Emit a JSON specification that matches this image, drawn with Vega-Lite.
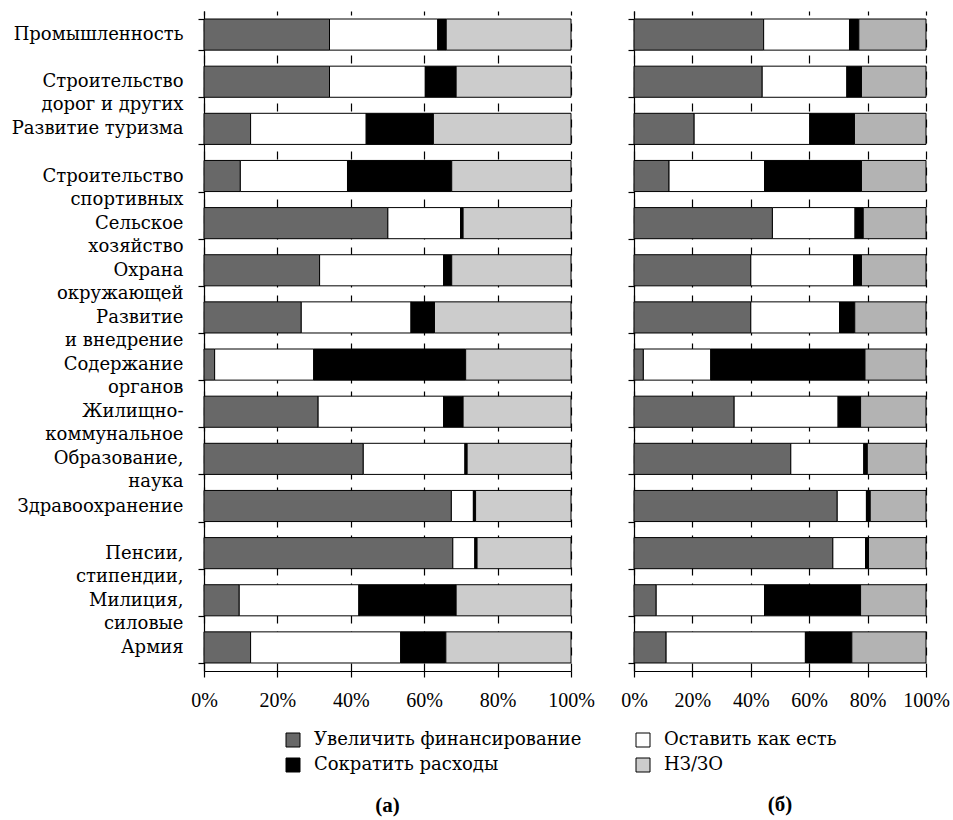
{
  "$schema": "https://vega.github.io/schema/vega-lite/v6.json",
  "autosize": {"type": "pad"},
  "padding": {"left": 11, "top": 2, "right": 5, "bottom": 5},
  "background": "white",
  "spacing": 63,
  "bounds": "flush",
  "config": {
    "view": {"stroke": null},
    "font": "DejaVu Serif",
    "bar": {"stroke": "black", "strokeWidth": 1},
    "axis": {
      "domainColor": "black",
      "domainWidth": 1.2,
      "tickColor": "black",
      "tickWidth": 1.2,
      "tickSize": 6,
      "labelColor": "black",
      "titleColor": "black"
    },
    "legend": {
      "orient": "none",
      "direction": "horizontal",
      "legendX": 80,
      "legendY": 720,
      "columns": 2,
      "padding": 0,
      "symbolType": "square",
      "symbolSize": 196,
      "symbolStrokeColor": "black",
      "symbolStrokeWidth": 1,
      "symbolOpacity": 1,
      "labelFont": "DejaVu Serif",
      "labelFontSize": 18,
      "labelColor": "black",
      "labelOffset": 12,
      "rowPadding": 7,
      "columnPadding": 52,
      "labelLimit": 400
    },
    "title": {"orient": "bottom", "anchor": "middle", "font": "Liberation Serif", "fontSize": 21, "fontWeight": "bold", "color": "black"}
  },
  "datasets": {
    "order": [
      {"s": "Увеличить финансирование", "k": 1},
      {"s": "Оставить как есть", "k": 2},
      {"s": "Сократить расходы", "k": 3},
      {"s": "НЗ/ЗО", "k": 4}
    ],
    "a": [
      {"c": "Промышленность", "Увеличить финансирование": 34.2, "Оставить как есть": 29.5, "Сократить расходы": 2.3, "НЗ/ЗО": 34.0},
      {"c": "Строительство|дорог и других", "Увеличить финансирование": 34.2, "Оставить как есть": 26.1, "Сократить расходы": 8.4, "НЗ/ЗО": 31.3},
      {"c": "Развитие туризма", "Увеличить финансирование": 12.7, "Оставить как есть": 31.5, "Сократить расходы": 18.3, "НЗ/ЗО": 37.5},
      {"c": "Строительство|спортивных", "Увеличить финансирование": 9.9, "Оставить как есть": 29.2, "Сократить расходы": 28.4, "НЗ/ЗО": 32.5},
      {"c": "Сельское|хозяйство", "Увеличить финансирование": 50.1, "Оставить как есть": 19.8, "Сократить расходы": 0.7, "НЗ/ЗО": 29.4},
      {"c": "Охрана|окружающей", "Увеличить финансирование": 31.5, "Оставить как есть": 33.8, "Сократить расходы": 2.2, "НЗ/ЗО": 32.5},
      {"c": "Развитие|и внедрение", "Увеличить финансирование": 26.5, "Оставить как есть": 29.9, "Сократить расходы": 6.4, "НЗ/ЗО": 37.2},
      {"c": "Содержание|органов", "Увеличить финансирование": 2.9, "Оставить как есть": 27.0, "Сократить расходы": 41.4, "НЗ/ЗО": 28.7},
      {"c": "Жилищно-|коммунальное", "Увеличить финансирование": 31.1, "Оставить как есть": 34.2, "Сократить расходы": 5.3, "НЗ/ЗО": 29.4},
      {"c": "Образование,|наука", "Увеличить финансирование": 43.4, "Оставить как есть": 27.7, "Сократить расходы": 0.6, "НЗ/ЗО": 28.3},
      {"c": "Здравоохранение", "Увеличить финансирование": 67.4, "Оставить как есть": 6.0, "Сократить расходы": 0.6, "НЗ/ЗО": 26.0},
      {"c": "Пенсии,|стипендии,", "Увеличить финансирование": 67.8, "Оставить как есть": 6.0, "Сократить расходы": 0.6, "НЗ/ЗО": 25.6},
      {"c": "Милиция,|силовые", "Увеличить финансирование": 9.6, "Оставить как есть": 32.6, "Сократить расходы": 26.5, "НЗ/ЗО": 31.3},
      {"c": "Армия", "Увеличить финансирование": 12.7, "Оставить как есть": 40.9, "Сократить расходы": 12.3, "НЗ/ЗО": 34.1}
    ],
    "b": [
      {"c": "Промышленность", "Увеличить финансирование": 44.4, "Оставить как есть": 29.4, "Сократить расходы": 3.2, "НЗ/ЗО": 23.0},
      {"c": "Строительство|дорог и других", "Увеличить финансирование": 43.9, "Оставить как есть": 29.0, "Сократить расходы": 5.0, "НЗ/ЗО": 22.1},
      {"c": "Развитие туризма", "Увеличить финансирование": 20.6, "Оставить как есть": 39.6, "Сократить расходы": 15.3, "НЗ/ЗО": 24.5},
      {"c": "Строительство|спортивных", "Увеличить финансирование": 12.0, "Оставить как есть": 32.7, "Сократить расходы": 33.2, "НЗ/ЗО": 22.1},
      {"c": "Сельское|хозяйство", "Увеличить финансирование": 47.4, "Оставить как есть": 28.3, "Сократить расходы": 2.8, "НЗ/ЗО": 21.5},
      {"c": "Охрана|окружающей", "Увеличить финансирование": 40.0, "Оставить как есть": 35.2, "Сократить расходы": 2.7, "НЗ/ЗО": 22.1},
      {"c": "Развитие|и внедрение", "Увеличить финансирование": 40.0, "Оставить как есть": 30.4, "Сократить расходы": 5.2, "НЗ/ЗО": 24.4},
      {"c": "Содержание|органов", "Увеличить финансирование": 3.2, "Оставить как есть": 23.1, "Сократить расходы": 52.8, "НЗ/ЗО": 20.9},
      {"c": "Жилищно-|коммунальное", "Увеличить финансирование": 34.3, "Оставить как есть": 35.6, "Сократить расходы": 7.7, "НЗ/ЗО": 22.4},
      {"c": "Образование,|наука", "Увеличить финансирование": 53.7, "Оставить как есть": 25.0, "Сократить расходы": 1.2, "НЗ/ЗО": 20.1},
      {"c": "Здравоохранение", "Увеличить финансирование": 69.6, "Оставить как есть": 10.0, "Сократить расходы": 1.3, "НЗ/ЗО": 19.1},
      {"c": "Пенсии,|стипендии,", "Увеличить финансирование": 68.1, "Оставить как есть": 11.2, "Сократить расходы": 1.0, "НЗ/ЗО": 19.7},
      {"c": "Милиция,|силовые", "Увеличить финансирование": 7.6, "Оставить как есть": 37.1, "Сократить расходы": 32.9, "НЗ/ЗО": 22.4},
      {"c": "Армия", "Увеличить финансирование": 11.0, "Оставить как есть": 47.7, "Сократить расходы": 15.9, "НЗ/ЗО": 25.4}
    ]
  },
  "hconcat": [
    {
      "width": 367,
      "height": 660,
      "data": {"name": "a"},
      "transform": [
        {"fold": ["Увеличить финансирование", "Оставить как есть", "Сократить расходы", "НЗ/ЗО"], "as": ["s", "v"]},
        {"lookup": "s", "from": {"data": {"name": "order"}, "key": "s", "fields": ["k"]}}
      ],
      "title": {"text": "(а)", "offset": 21},
      "mark": {"type": "bar"},
      "encoding": {
        "y": {
          "field": "c", "type": "nominal", "sort": null,
          "scale": {"paddingInner": 0.34, "paddingOuter": 0.17},
          "axis": {
            "title": null, "tickBand": "extent",
            "labelExpr": "split(datum.label, '|')",
            "labelFont": "DejaVu Serif", "labelFontSize": 18, "labelLineHeight": 23, "labelPadding": 15, "labelLimit": 300
          }
        },
        "x": {
          "field": "v", "type": "quantitative", "stack": "normalize",
          "scale": {"domain": [0, 1], "nice": false},
          "axis": {"title": null, "values": [0, 0.2, 0.4, 0.6, 0.8, 1], "format": "~%", "labelFlush": false, "labelOverlap": false, "labelFont": "Liberation Serif", "labelFontSize": 20, "labelPadding": 13, "grid": true, "gridColor": "black", "gridDash": [8, 8], "gridWidth": 1.2}
        },
        "order": {"field": "k", "type": "quantitative", "sort": "ascending"},
        "color": {
          "field": "s", "type": "nominal",
          "sort": ["Увеличить финансирование", "Оставить как есть", "Сократить расходы", "НЗ/ЗО"],
          "scale": {"domain": ["Увеличить финансирование", "Оставить как есть", "Сократить расходы", "НЗ/ЗО"], "range": ["#686868", "#ffffff", "#000000", "#cccccc"]},
          "legend": {"title": null}
        }
      }
    },
    {
      "width": 292,
      "height": 660,
      "data": {"name": "b"},
      "transform": [
        {"fold": ["Увеличить финансирование", "Оставить как есть", "Сократить расходы", "НЗ/ЗО"], "as": ["s", "v"]},
        {"lookup": "s", "from": {"data": {"name": "order"}, "key": "s", "fields": ["k"]}}
      ],
      "title": {"text": "(б)", "offset": 84},
      "mark": {"type": "bar"},
      "encoding": {
        "y": {
          "field": "c", "type": "nominal", "sort": null,
          "scale": {"paddingInner": 0.34, "paddingOuter": 0.17},
          "axis": {"title": null, "tickBand": "extent", "labels": false}
        },
        "x": {
          "field": "v", "type": "quantitative", "stack": "normalize",
          "scale": {"domain": [0, 1], "nice": false},
          "axis": {"title": null, "values": [0, 0.2, 0.4, 0.6, 0.8, 1], "format": "~%", "labelFlush": false, "labelOverlap": false, "labelFont": "Liberation Serif", "labelFontSize": 20, "labelPadding": 13, "grid": true, "gridColor": "black", "gridDash": [8, 8], "gridWidth": 1.2}
        },
        "order": {"field": "k", "type": "quantitative", "sort": "ascending"},
        "color": {
          "field": "s", "type": "nominal",
          "sort": ["Увеличить финансирование", "Оставить как есть", "Сократить расходы", "НЗ/ЗО"],
          "scale": {"domain": ["Увеличить финансирование", "Оставить как есть", "Сократить расходы", "НЗ/ЗО"], "range": ["#686868", "#ffffff", "#000000", "#b3b3b3"]},
          "legend": null
        }
      }
    }
  ],
  "resolve": {"scale": {"color": "independent"}, "legend": {"color": "independent"}}
}
